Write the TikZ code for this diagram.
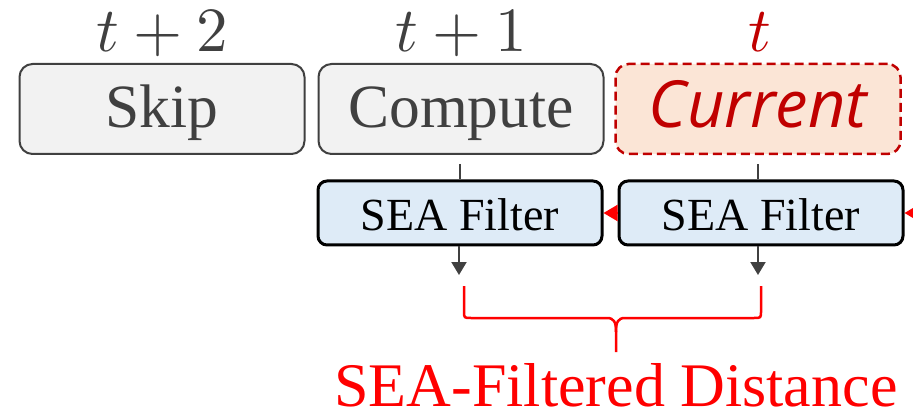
\documentclass[tikz,border=0pt]{standalone}
\usepackage{fontspec}
\usepackage{unicode-math}
\setmainfont{Liberation Serif}
\setmathfont{Latin Modern Math}
\newfontfamily\curfont{Open Sans}
\usetikzlibrary{arrows.meta,calc}
\definecolor{ink}{HTML}{404040}
\definecolor{boxfill}{HTML}{F2F2F2}
\definecolor{curred}{HTML}{C00000}
\definecolor{curfill}{HTML}{FBE5D6}
\definecolor{filtfill}{HTML}{DEEBF7}
\definecolor{hotred}{HTML}{FF0000}
\tikzset{
  stagebox/.style={draw=ink, line width=2pt, fill=boxfill, rounded corners=13pt,
    minimum width=285pt, minimum height=90pt, inner sep=0pt,
    text height=38pt, text depth=0pt, text=ink,
    font=\fontsize{61.5}{70}\selectfont},
  curbox/.style={stagebox, draw=curred, fill=curfill, dash pattern=on 9pt off 5pt,
    line width=2.5pt, text=curred, font=\curfont\itshape\fontsize{65}{72}\selectfont},
  filtbox/.style={draw=black, line width=3pt, fill=filtfill, rounded corners=9pt,
    minimum width=284pt, minimum height=64pt, inner sep=0pt,
    text height=34pt, text depth=0pt, font=\fontsize{46}{52}\selectfont},
  steplabel/.style={anchor=base, inner sep=0pt, text=ink, font=\fontsize{63}{70}\selectfont},
  feed/.style={draw=ink, line width=2pt},
  down/.style={feed, -{Triangle[length=13pt, width=15pt]}},
  carry/.style={draw=hotred, line width=2pt, -{Triangle[length=14pt, width=16pt]}},
  bracket/.style={draw=hotred, line width=2.5pt, line join=round}
}
\begin{document}
\begin{tikzpicture}[x=1pt, y=-1pt]
\useasboundingbox (0,0) rectangle (913,414);

% time steps
\node[stagebox] (skip) at (162,109) {Skip};
\node[stagebox] (comp) at (461,109) {Compute};
\node[curbox]   (cur)  at (758,109) {Current};

\node[steplabel] (l2) at (162,52) {$t+2$};
\node[steplabel] (l1) at (461,52) {$t+1$};
\node[steplabel, text=curred] (l0) at (760,52) {$t$};

% filters
\node[filtbox] (f1) at (460,213) {SEA Filter};
\node[filtbox] (f2) at (761,213) {SEA Filter};

% feeds into the filters
\draw[feed] ($(comp.south)+(-1.5,9)$) -- ($(comp.south |- f1.north)+(-1.5,0)$);
\draw[feed] ($(cur.south)+(0,9)$) -- (cur.south |- f2.north);

% filter outputs
\coordinate (d1) at (459,275);
\coordinate (d2) at (758,275);
\draw[down] (f1.south -| d1) -- (d1);
\draw[down] (f2.south -| d2) -- (d2);

% state carried between filters
\coordinate (inflow) at (935,213);
\draw[carry] (f2.west) -- (f1.east);
\draw[carry] (inflow) -- (f2.east);

% bracket over both outputs
\coordinate (bl) at (464,286);
\coordinate (br) at (761,286);
\coordinate (bm) at (616,352);
\draw[bracket] (bl) -- (464,311) .. controls (464,318) .. (471,318) -- (607,318)
  .. controls (614,318) and (616,322) .. (616,332) -- (bm);
\draw[bracket] (br) -- (761,311) .. controls (761,318) .. (754,318) -- (625,318)
  .. controls (618,318) and (616,322) .. (616,332);

\node[anchor=base, inner sep=0pt, text=hotred, font=\fontsize{62}{70}\selectfont] (dist) at (616,406) {SEA-Filtered Distance};
\end{tikzpicture}
\end{document}
